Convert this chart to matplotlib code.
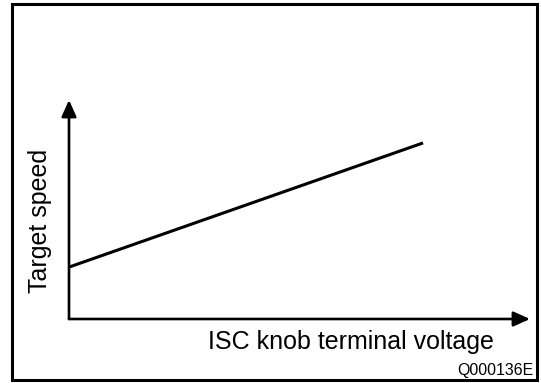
import matplotlib
matplotlib.use('Agg')
import matplotlib.pyplot as plt
from matplotlib.patches import Rectangle

plt.rcParams['font.family'] = ['Liberation Sans', 'DejaVu Sans']

# knob voltage vs. target idle speed (relative units)
voltage = [0.0, 0.768]
target_speed = [0.237, 0.804]

x_label = 'ISC knob terminal voltage'
y_label = 'Target speed'
code = 'Q000136E'

W, H = 541, 383
fig = plt.figure(figsize=(W / 100, H / 100), dpi=100)

# outer frame
fig.patches.append(Rectangle((12 / W, 3 / H), 525 / W, 376 / H, transform=fig.transFigure,
                             fill=False, edgecolor='black', linewidth=2.2))

# axes origin at (69, 319) px, arrow tips at x=530 and y=100
x0, y0 = 69, 319
ax = fig.add_axes([x0 / W, (H - y0) / H, (530 - x0) / W, (y0 - 100) / H])
ax.set_xlim(0, 1)
ax.set_ylim(0, 1)
ax.axis('off')

ax.plot(voltage, target_speed, color='black', linewidth=2.2, solid_capstyle='butt')

arrow = dict(arrowstyle='-|>,head_length=1.0,head_width=0.45', color='black',
             linewidth=1.9, shrinkA=0, shrinkB=0)
ax.annotate('', xy=(1, 0), xytext=(0, 0), xycoords='axes fraction', arrowprops=arrow)
ax.annotate('', xy=(0, 1), xytext=(0, 0), xycoords='axes fraction', arrowprops=arrow)

fig.text(351 / W, 1 - 342 / H, x_label, ha='center', va='center', fontsize=18)
fig.text(40 / W, 1 - 221 / H, y_label, ha='center', va='center', fontsize=18, rotation=90)
fig.text(533 / W, 1 - 370 / H, code, ha='right', va='center', fontsize=11.5)

fig.savefig('out.png', dpi=100)
